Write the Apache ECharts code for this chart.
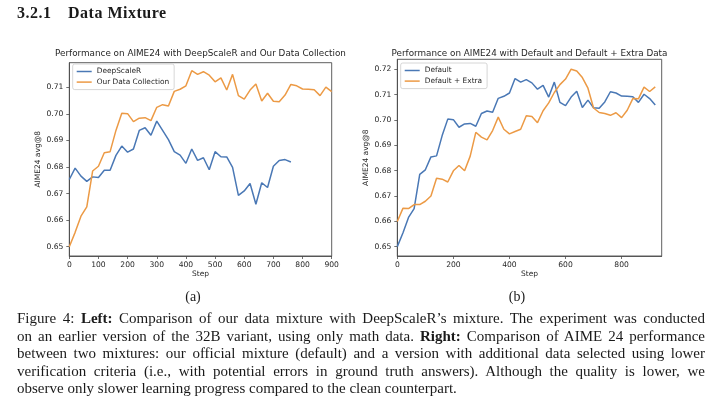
<!DOCTYPE html>
<html>
<head>
<meta charset="utf-8">
<title>Data Mixture</title>
<script src="https://cdn.jsdelivr.net/npm/echarts@6/dist/echarts.min.js"></script>
<style>
  * { margin: 0; padding: 0; }
  body { width: 720px; height: 411px; background: #fff; position: relative; overflow: hidden; }
  #chart { position: absolute; left: 0; top: 0; width: 720px; height: 411px; }
  .tex { position: absolute; font-family: "Liberation Serif", serif; color: #1a1a1a; z-index: 2; }
  .heading { left: 17px; top: 4px; font-size: 16px; font-weight: bold; letter-spacing: 0.5px; line-height: 18px; }
  .heading .num { display: inline-block; width: 51px; }
  .sub { top: 288px; font-size: 14px; line-height: 18px; width: 40px; text-align: center; }
  .caption { left: 17px; top: 310px; width: 688px; font-size: 15px; line-height: 17.6px; }
  .caption div { text-align: justify; text-align-last: justify; white-space: nowrap; }
  .caption div.last { text-align-last: left; }
</style>
</head>
<body>
<div class="tex heading"><span class="num">3.2.1</span>Data Mixture</div>
<div id="chart"></div>
<div class="tex sub" style="left:173px">(a)</div>
<div class="tex sub" style="left:497px">(b)</div>
<div class="tex caption">
  <div>Figure 4: <b>Left:</b> Comparison of our data mixture with DeepScaleR’s mixture. The experiment was conducted</div>
  <div>on an earlier version of the 32B variant, using only math data. <b>Right:</b> Comparison of AIME 24 performance</div>
  <div>between two mixtures: our official mixture (default) and a version with additional data selected using lower</div>
  <div>verification criteria (i.e., with potential errors in ground truth answers). Although the quality is lower, we</div>
  <div class="last">observe only slower learning progress compared to the clean counterpart.</div>
</div>
<script>
// training steps (every 20)
const steps = [0, 20, 40, 60, 80, 100, 120, 140, 160, 180, 200, 220, 240, 260, 280, 300, 320, 340, 360, 380,
  400, 420, 440, 460, 480, 500, 520, 540, 560, 580, 600, 620, 640, 660, 680, 700, 720, 740, 760, 780,
  800, 820, 840, 860, 880, 900, 920];

// left: DeepScaleR mixture (0..760)
const deepScaleR = [0.6753, 0.6796, 0.6766, 0.6746, 0.6763, 0.6761, 0.6788, 0.6788, 0.6844, 0.6879,
  0.6856, 0.6868, 0.6938, 0.6948, 0.6920, 0.6973, 0.6938, 0.6903, 0.6858, 0.6845,
  0.6814, 0.6868, 0.6825, 0.6835, 0.6790, 0.6858, 0.6839, 0.6838, 0.6799, 0.6693,
  0.6710, 0.6738, 0.6660, 0.6741, 0.6723, 0.6803, 0.6825, 0.6828, 0.6819];

// our data collection == "Default" on the right (0..920)
const ourData = [0.6500, 0.6554, 0.6615, 0.6650, 0.6785, 0.6803, 0.6854, 0.6858, 0.6938, 0.7003,
  0.7001, 0.6971, 0.6984, 0.6986, 0.6975, 0.7025, 0.7035, 0.7030, 0.7085, 0.7093,
  0.7106, 0.7163, 0.7149, 0.7159, 0.7146, 0.7121, 0.7136, 0.7090, 0.7149, 0.7069,
  0.7056, 0.7090, 0.7113, 0.7049, 0.7078, 0.7048, 0.7046, 0.7071, 0.7111, 0.7106,
  0.7094, 0.7093, 0.7091, 0.7069, 0.7101, 0.7084, 0.7059];

// right: default + extra data (0..920)
const defaultExtra = [0.6599, 0.6651, 0.6650, 0.6666, 0.6666, 0.6679, 0.6700, 0.6770, 0.6766, 0.6755,
  0.6799, 0.6820, 0.6799, 0.6857, 0.6951, 0.6932, 0.6921, 0.6958, 0.7011, 0.6963,
  0.6945, 0.6954, 0.6963, 0.7016, 0.7013, 0.6989, 0.7036, 0.7067, 0.7108, 0.7139,
  0.7161, 0.7200, 0.7193, 0.7167, 0.7125, 0.7047, 0.7029, 0.7025, 0.7018, 0.7028,
  0.7009, 0.7038, 0.7084, 0.7083, 0.7129, 0.7112, 0.7130];

const xTicksA = [0, 100, 200, 300, 400, 500, 600, 700, 800, 900];
const yTicksA = [0.65, 0.66, 0.67, 0.68, 0.69, 0.70, 0.71];
const xTicksB = [0, 200, 400, 600, 800];
const yTicksB = [0.65, 0.66, 0.67, 0.68, 0.69, 0.70, 0.71, 0.72];

const BLUE = '#4a78b5';
const ORANGE = '#ec9a45';
const INK = '#262626';
const FRAME = '#4d4d4d';
const FONT = 'DejaVu Sans';

function pairs(xs, ys) {
  return ys.map((v, i) => [xs[i], v]);
}

function xAxisOf(idx, min, max, ticks) {
  return {
    type: 'value', gridIndex: idx, min: min, max: max,
    name: 'Step', nameLocation: 'middle', nameGap: 14,
    nameTextStyle: { fontFamily: FONT, fontSize: 7.5, color: INK },
    axisLine: { show: true, lineStyle: { color: FRAME, width: 0.9 } },
    axisTick: { show: true, length: 3, lineStyle: { color: FRAME, width: 0.8 }, customValues: ticks },
    axisLabel: { fontFamily: FONT, fontSize: 7.6, color: INK, margin: 5, customValues: ticks },
    splitLine: { show: false }
  };
}

function yAxisOf(idx, min, max, ticks, gap) {
  return {
    type: 'value', gridIndex: idx, min: min, max: max,
    name: 'AIME24 avg@8', nameLocation: 'middle', nameGap: gap,
    nameTextStyle: { fontFamily: FONT, fontSize: 7.5, color: INK },
    axisLine: { show: true, lineStyle: { color: FRAME, width: 0.9 } },
    axisTick: { show: true, length: 3, lineStyle: { color: FRAME, width: 0.8 }, customValues: ticks },
    axisLabel: { fontFamily: FONT, fontSize: 7.6, color: INK, margin: 6, customValues: ticks,
      formatter: v => v.toFixed(2) },
    splitLine: { show: false }
  };
}

function lineOf(name, data, color, idx) {
  return {
    type: 'line', name: name, data: data, xAxisIndex: idx, yAxisIndex: idx,
    showSymbol: false, symbol: 'none', animation: false,
    lineStyle: { color: color, width: 1.5 }, itemStyle: { color: color }
  };
}

function legendOf(names, left, top) {
  return {
    data: names, orient: 'vertical', left: left, top: top,
    icon: 'rect', itemWidth: 15, itemHeight: 1.5, itemGap: 1.6,
    padding: [3, 5, 3, 4],
    backgroundColor: 'rgba(255,255,255,0.85)', borderColor: '#cccccc', borderWidth: 0.8, borderRadius: 2,
    textStyle: { fontFamily: FONT, fontSize: 7.4, color: INK, lineHeight: 9 }
  };
}

const chart = echarts.init(document.getElementById('chart'), null, { renderer: 'canvas' });

chart.setOption({
  animation: false,
  grid: [
    { left: 69.3, top: 62.7, width: 262.4, height: 193.3, show: true, borderColor: FRAME, borderWidth: 0.9, backgroundColor: 'transparent' },
    { left: 397.3, top: 59.3, width: 264.4, height: 196.7, show: true, borderColor: FRAME, borderWidth: 0.9, backgroundColor: 'transparent' }
  ],
  xAxis: [
    xAxisOf(0, 0, 900, xTicksA),
    xAxisOf(1, 0, 943, xTicksB)
  ],
  yAxis: [
    yAxisOf(0, 0.6465, 0.7193, yTicksA, 26),
    yAxisOf(1, 0.6463, 0.7239, yTicksB, 24)
  ],
  legend: [
    legendOf(['DeepScaleR', 'Our Data Collection'], 72.7, 64),
    legendOf(['Default', 'Default + Extra'], 400.7, 63)
  ],
  graphic: [
    { type: 'text', x: 200.5, y: 54, style: { text: 'Performance on AIME24 with DeepScaleR and Our Data Collection',
      fontFamily: FONT, fontSize: 8.8, fill: INK, align: 'center', verticalAlign: 'middle' } },
    { type: 'text', x: 529.5, y: 53.5, style: { text: 'Performance on AIME24 with Default and Default + Extra Data',
      fontFamily: FONT, fontSize: 8.8, fill: INK, align: 'center', verticalAlign: 'middle' } }
  ],
  series: [
    lineOf('DeepScaleR', pairs(steps, deepScaleR), BLUE, 0),
    lineOf('Our Data Collection', pairs(steps, ourData.slice(0, 46)), ORANGE, 0),
    lineOf('Default', pairs(steps, ourData), BLUE, 1),
    lineOf('Default + Extra', pairs(steps, defaultExtra), ORANGE, 1)
  ]
});
</script>
</body>
</html>
